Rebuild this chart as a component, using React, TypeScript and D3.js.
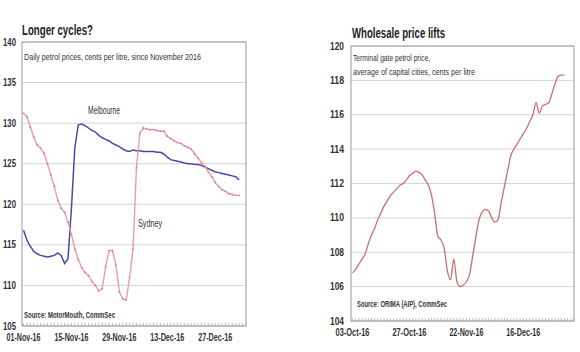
import React from "react";
import * as d3 from "d3";

// ---- Left chart data: daily petrol prices (cents/litre), day index from 01-Nov-16
const sydney = [131.2,130.8,129.5,128.3,127.3,126.9,126.3,125.0,123.6,122.2,120.5,119.5,119.0,117.8,116.3,114.5,113.2,112.2,111.6,111.2,110.5,110.0,109.3,109.6,112.3,114.3,114.3,112.5,109.2,108.3,108.2,111.0,114.5,124.5,128.8,129.4,129.3,129.2,129.2,129.1,129.0,129.0,128.4,128.1,127.8,127.6,127.5,127.2,127.0,126.8,126.2,125.7,125.1,124.7,124.0,123.4,122.7,122.2,121.8,121.6,121.3,121.2,121.1,121.1];
const melbourne = [116.8,115.6,114.8,114.2,113.9,113.7,113.6,113.5,113.6,113.7,114.0,113.7,112.7,113.3,119.5,127.0,129.8,129.9,129.7,129.4,129.1,128.9,128.5,128.2,128.0,127.8,127.5,127.3,127.1,126.8,126.6,126.5,126.7,126.6,126.6,126.5,126.5,126.5,126.5,126.4,126.4,126.2,125.8,125.5,125.4,125.3,125.2,125.1,125.0,125.0,124.9,124.9,124.8,124.6,124.4,124.2,124.0,123.9,123.8,123.7,123.6,123.5,123.4,123.0];
const leftYTicks = [105,110,115,120,125,130,135,140];
const leftXTicks = [0,14,28,42,56];
const leftXLabels = ["01-Nov-16","15-Nov-16","29-Nov-16","13-Dec-16","27-Dec-16"];

// ---- Right chart data: terminal gate petrol price, business-day index from 03-Oct-16
const terminalGate = [106.8,107.0,107.3,107.6,107.9,108.5,109.0,109.4,109.9,110.3,110.7,111.0,111.3,111.5,111.7,111.9,112.0,112.2,112.45,112.6,112.7,112.65,112.5,112.2,111.9,111.3,110.2,108.9,108.7,108.2,106.9,106.4,107.6,106.3,106.0,106.1,106.3,106.7,107.8,108.9,109.9,110.35,110.5,110.4,110.0,109.75,109.9,110.9,111.8,112.7,113.6,114.0,114.3,114.6,114.9,115.2,115.6,116.0,116.7,116.1,116.5,116.6,116.7,117.2,117.8,118.25,118.3,118.3];
const rightYTicks = [104,106,108,110,112,114,116,118,120];
const rightXTicks = [0,18,36,54];
const rightXLabels = ["03-Oct-16","27-Oct-16","22-Nov-16","16-Dec-16"];

const FONT = "'Liberation Sans',Arial,sans-serif";
const GRID = "#d4d4d4";
const FRAME = "#9a9a9a";
const LABEL = "#333";

type Frame = { l: number; r: number; t: number; b: number };

function T(props: {
  x: number; y: number; w: number; size: number; bold?: boolean;
  anchor?: "start" | "middle" | "end"; fill?: string; children: React.ReactNode;
}) {
  const { x, y, w, size, bold, anchor = "start", fill = LABEL, children } = props;
  return (
    <text
      x={x}
      y={y}
      textLength={w}
      lengthAdjust="spacingAndGlyphs"
      textAnchor={anchor}
      fontSize={size}
      fontWeight={bold ? "bold" : "normal"}
      fill={fill}
      fontFamily={FONT}
    >
      {children}
    </text>
  );
}

function Panel(props: {
  f: Frame;
  x: d3.ScaleLinear<number, number>;
  y: d3.ScaleLinear<number, number>;
  yTicks: number[];
  xTicks: number[];
  xLabels: string[];
  nMinor: number;
  labelX: number;
  labelW: number;
  xLabelY: number;
}) {
  const { f, x, y, yTicks, xTicks, xLabels, nMinor, labelX, labelW, xLabelY } = props;
  const minor = d3.range(0, nMinor + 1);
  return (
    <g>
      <rect x={f.l} y={f.t} width={f.r - f.l} height={f.b - f.t} fill="#fff" />
      {yTicks.map((t) => (
        <line key={"g" + t} x1={f.l} x2={f.r} y1={y(t)} y2={y(t)} stroke={GRID} strokeWidth={1} />
      ))}
      {minor.map((m) => (
        <line key={"m" + m} x1={x(m)} x2={x(m)} y1={f.b - 3} y2={f.b} stroke="#b0b0b0" strokeWidth={0.8} />
      ))}
      <rect x={f.l} y={f.t} width={f.r - f.l} height={f.b - f.t} fill="none" stroke={FRAME} strokeWidth={1} />
      {yTicks.map((t) => (
        <T key={"yl" + t} x={labelX} y={y(t) + 3.5} w={labelW} size={10} bold anchor="end">
          {t}
        </T>
      ))}
      {xTicks.map((t, i) => (
        <T key={"xl" + t} x={x(t)} y={xLabelY} w={34} size={10.5} bold anchor="middle">
          {xLabels[i]}
        </T>
      ))}
    </g>
  );
}

export default function App() {
  // Left chart
  const fL: Frame = { l: 22, r: 246, t: 42, b: 326 };
  const xL = d3.scaleLinear().domain([0, 65]).range([23.5, 246]);
  const yL = d3.scaleLinear().domain([105, 140]).range([fL.b, fL.t]);
  const lineL = d3.line<number>().x((_, i) => xL(i)).y((v) => yL(v));

  // Right chart
  const fR: Frame = { l: 351, r: 574, t: 46, b: 321 };
  const xR = d3.scaleLinear().domain([0, 70]).range([352.5, 574]);
  const yR = d3.scaleLinear().domain([104, 120]).range([fR.b, fR.t]);
  const lineR = d3.line<number>().x((_, i) => xR(i)).y((v) => yR(v)).curve(d3.curveMonotoneX);

  return (
    <svg
      width={580}
      height={352}
      style={{ position: "absolute", left: 0, top: 0, background: "#fff" }}
    >
      <rect x={0} y={0} width={580} height={352} fill="#fff" />
      {/* Left */}
      <T x={22} y={35} w={71} size={14} bold fill="#222">Longer cycles?</T>
      <Panel f={fL} x={xL} y={yL} yTicks={leftYTicks} xTicks={leftXTicks} xLabels={leftXLabels} nMinor={65} labelX={16} labelW={13} xLabelY={341} />
      <T x={24} y={60} w={177} size={9.5}>Daily petrol prices, cents per litre, since November 2016</T>
      <path d={lineL(melbourne) || ""} fill="none" stroke="#4b47a6" strokeWidth={1.5} />
      <path d={lineL(sydney) || ""} fill="none" stroke="#ec9ea4" strokeWidth={1.4} />
      {sydney.map((v, i) => (
        <circle key={"s" + i} cx={xL(i)} cy={yL(v)} r={0.9} fill="#d97884" />
      ))}
      <T x={88} y={114} w={32} size={10}>Melbourne</T>
      <T x={138} y={227} w={24} size={10}>Sydney</T>
      <T x={24} y={318} w={91} size={9} bold>Source: MotorMouth, CommSec</T>

      {/* Right */}
      <T x={352} y={38} w={93} size={14} bold fill="#222">Wholesale price lifts</T>
      <Panel f={fR} x={xR} y={yR} yTicks={rightYTicks} xTicks={rightXTicks} xLabels={rightXLabels} nMinor={70} labelX={344} labelW={14} xLabelY={336} />
      <T x={353} y={61} w={77} size={9.5}>Terminal gate petrol price,</T>
      <T x={353} y={75} w={122} size={9.5}>average of capital cities, cents per litre</T>
      <path d={lineR(terminalGate) || ""} fill="none" stroke="#c96f72" strokeWidth={1.3} />
      <T x={357} y={307} w={90} size={9} bold>Source: ORIMA (AIP), CommSec</T>
    </svg>
  );
}
